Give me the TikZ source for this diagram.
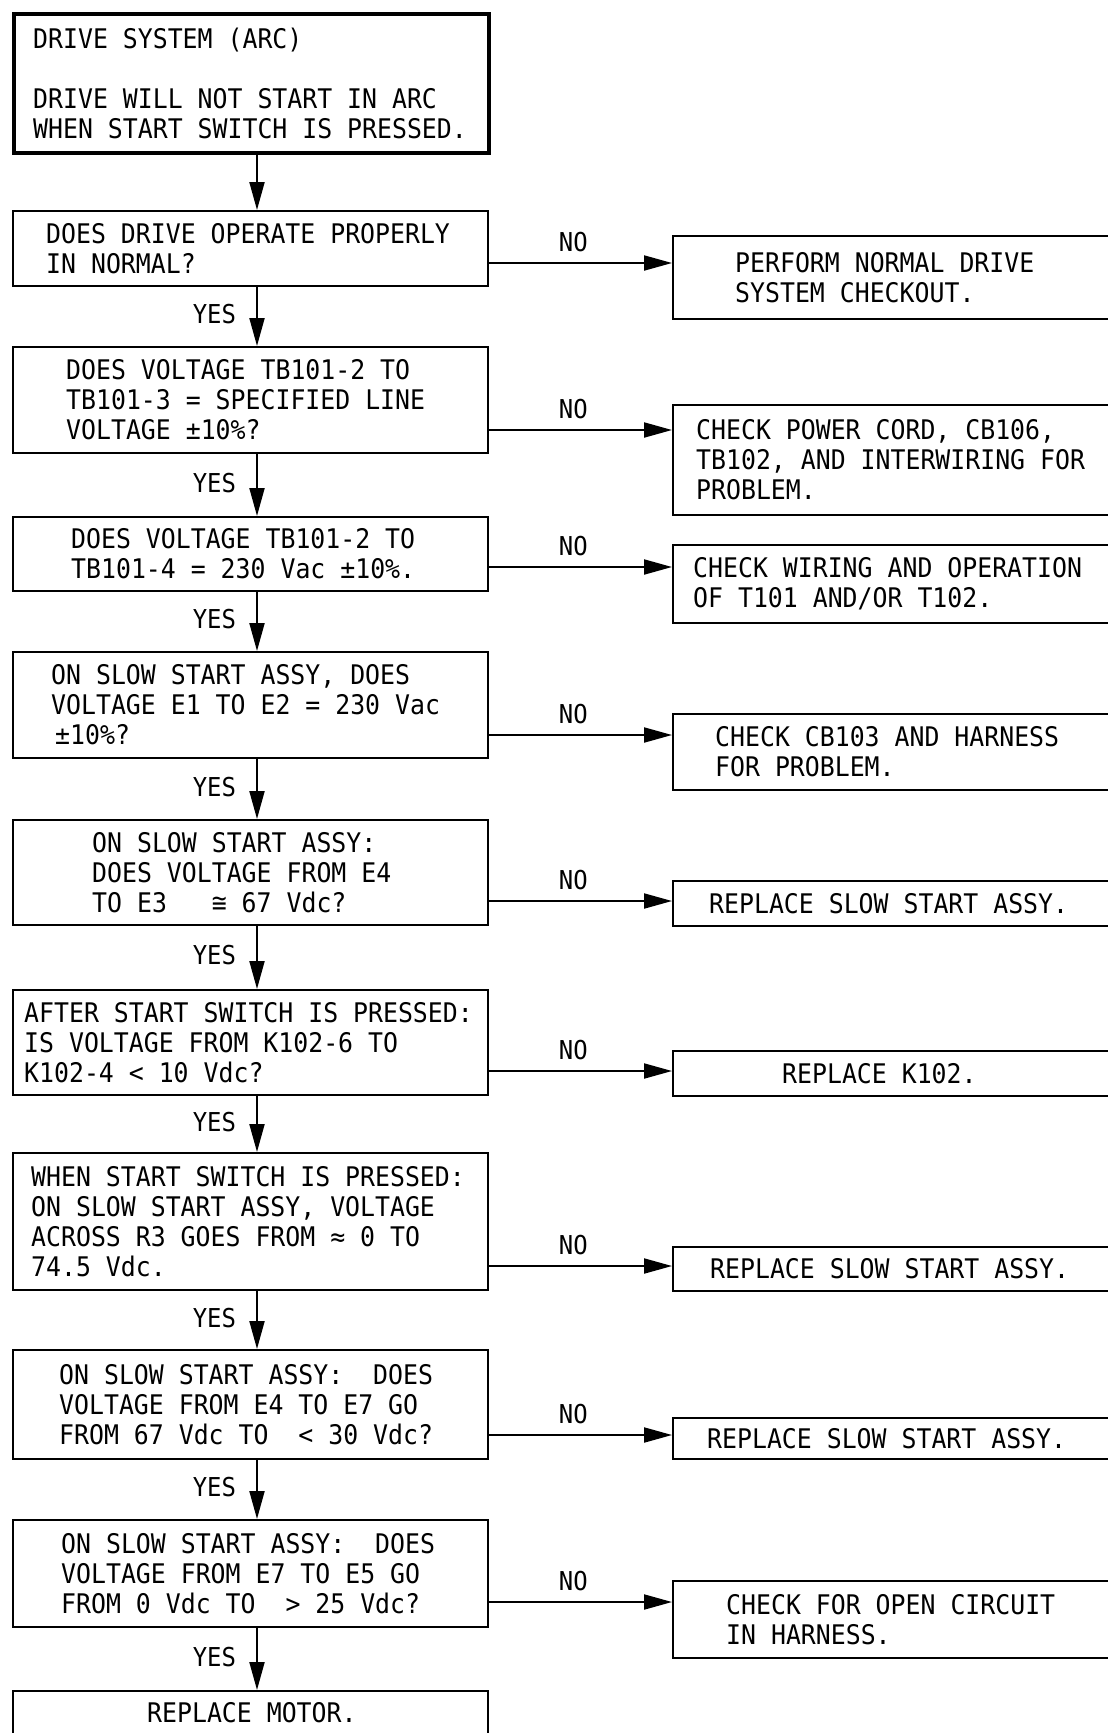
\documentclass[tikz,border=0pt]{standalone}
\usepackage{fontspec}
\newfontfamily\tw[FakeStretch=0.92]{DejaVu Sans Mono}
\usetikzlibrary{arrows.meta}
\begin{document}
\begin{tikzpicture}[x=1pt,y=-1pt,
  box/.style={draw, line width=2.2pt, anchor=north west, inner sep=0pt},
  mainbox/.style={box, minimum width=475pt},
  sidebox/.style={box, minimum width=450pt},
  txt/.style={font=\tw\fontsize{27}{30}\selectfont, align=left, inner sep=0pt, anchor=west},
  lab/.style={font=\tw\fontsize{26}{28}\selectfont, inner sep=0pt},
  yeslab/.style={lab, pos=0.46, anchor=east, xshift=-20pt},
  nolab/.style={lab, pos=0.46, yshift=21pt},
  arr/.style={line width=2pt, -{Triangle[length=28pt,width=15pt]}},
]
\useasboundingbox (0,0) rectangle (1108,1733);
\clip (0,0) rectangle (1108,1733);
\fill[white] (0,0) rectangle (1108,1733);

\coordinate (sp) at (257,0);

% main column boxes
\node[mainbox, line width=4pt, minimum height=139pt] (b1) at (12,12) {};
\node[mainbox, minimum height=75pt] (b2) at (12,210) {};
\node[mainbox, minimum height=106pt] (b3) at (12,346) {};
\node[mainbox, minimum height=74pt] (b4) at (12,516) {};
\node[mainbox, minimum height=106pt] (b5) at (12,651) {};
\node[mainbox, minimum height=105pt] (b6) at (12,819) {};
\node[mainbox, minimum height=105pt] (b7) at (12,989) {};
\node[mainbox, minimum height=137pt] (b8) at (12,1152) {};
\node[mainbox, minimum height=109pt] (b9) at (12,1349) {};
\node[mainbox, minimum height=107pt] (b10) at (12,1519) {};
\node[mainbox, minimum height=80pt] (b11) at (12,1690) {};

% side boxes
\node[sidebox, minimum height=83pt] (r1) at (672,235) {};
\node[sidebox, minimum height=110pt] (r2) at (672,404) {};
\node[sidebox, minimum height=78pt] (r3) at (672,544) {};
\node[sidebox, minimum height=76pt] (r4) at (672,713) {};
\node[sidebox, minimum height=45pt] (r5) at (672,880) {};
\node[sidebox, minimum height=45pt] (r6) at (672,1050) {};
\node[sidebox, minimum height=44pt] (r7) at (672,1246) {};
\node[sidebox, minimum height=41pt] (r8) at (672,1417) {};
\node[sidebox, minimum height=77pt] (r9) at (672,1580) {};

% texts main
\node[txt] (t1) at ([xshift=21pt]b1.west) {DRIVE SYSTEM (ARC)\\[30pt]DRIVE WILL NOT START IN ARC\\WHEN START SWITCH IS PRESSED.};
\node[txt] (t2) at ([xshift=34pt]b2.west) {DOES DRIVE OPERATE PROPERLY\\IN NORMAL?};
\node[txt] (t3) at ([xshift=54pt]b3.west) {DOES VOLTAGE TB101-2 TO\\TB101-3 = SPECIFIED LINE\\VOLTAGE ±10\%?};
\node[txt] (t4) at ([xshift=59pt]b4.west) {DOES VOLTAGE TB101-2 TO\\TB101-4 = 230 Vac ±10\%.};
\node[txt] (t5) at ([xshift=39pt]b5.west) {ON SLOW START ASSY, DOES\\VOLTAGE E1 TO E2 = 230 Vac\\\hspace{4pt}±10\%?};
\node[txt] (t6) at ([xshift=80pt]b6.west) {ON SLOW START ASSY:\\DOES VOLTAGE FROM E4\\TO E3 ~ ≅ 67 Vdc?};
\node[txt] (t7) at ([xshift=12pt]b7.west) {AFTER START SWITCH IS PRESSED:\\IS VOLTAGE FROM K102-6 TO\\K102-4 < 10 Vdc?};
\node[txt] (t8) at ([xshift=19pt]b8.west) {WHEN START SWITCH IS PRESSED:\\ON SLOW START ASSY, VOLTAGE\\ACROSS R3 GOES FROM ≈ 0 TO\\74.5 Vdc.};
\node[txt] (t9) at ([xshift=47pt]b9.west) {ON SLOW START ASSY: ~DOES\\VOLTAGE FROM E4 TO E7 GO\\FROM 67 Vdc TO ~< 30 Vdc?};
\node[txt] (t10) at ([xshift=49pt]b10.west) {ON SLOW START ASSY: ~DOES\\VOLTAGE FROM E7 TO E5 GO\\FROM 0 Vdc TO ~> 25 Vdc?};
\node[txt, anchor=north west] (t11) at ([xshift=135pt,yshift=-12pt]b11.north west) {REPLACE MOTOR.};

% texts side
\node[txt] (s1) at ([xshift=63pt]r1.west) {PERFORM NORMAL DRIVE\\SYSTEM CHECKOUT.};
\node[txt] (s2) at ([xshift=24pt]r2.west) {CHECK POWER CORD, CB106,\\TB102, AND INTERWIRING FOR\\PROBLEM.};
\node[txt] (s3) at ([xshift=21pt]r3.west) {CHECK WIRING AND OPERATION\\OF T101 AND/OR T102.};
\node[txt] (s4) at ([xshift=43pt]r4.west) {CHECK CB103 AND HARNESS\\FOR PROBLEM.};
\node[txt] (s5) at ([xshift=37pt]r5.west) {REPLACE SLOW START ASSY.};
\node[txt] (s6) at ([xshift=110pt]r6.west) {REPLACE K102.};
\node[txt] (s7) at ([xshift=38pt]r7.west) {REPLACE SLOW START ASSY.};
\node[txt] (s8) at ([xshift=35pt]r8.west) {REPLACE SLOW START ASSY.};
\node[txt] (s9) at ([xshift=54pt]r9.west) {CHECK FOR OPEN CIRCUIT\\IN HARNESS.};

% vertical connectors
\draw[arr] (b1.south -| sp) -- (b2.north -| sp);
\draw[arr] (b2.south -| sp) -- node[yeslab] {YES} (b3.north -| sp);
\draw[arr] (b3.south -| sp) -- node[yeslab] {YES} (b4.north -| sp);
\draw[arr] (b4.south -| sp) -- node[yeslab] {YES} (b5.north -| sp);
\draw[arr] (b5.south -| sp) -- node[yeslab] {YES} (b6.north -| sp);
\draw[arr] (b6.south -| sp) -- node[yeslab] {YES} (b7.north -| sp);
\draw[arr] (b7.south -| sp) -- node[yeslab] {YES} (b8.north -| sp);
\draw[arr] (b8.south -| sp) -- node[yeslab] {YES} (b9.north -| sp);
\draw[arr] (b9.south -| sp) -- node[yeslab] {YES} (b10.north -| sp);
\draw[arr] (b10.south -| sp) -- node[yeslab] {YES} (b11.north -| sp);

% horizontal connectors
\coordinate (n2) at (0,263);
\coordinate (n3) at (0,430);
\coordinate (n4) at (0,567);
\coordinate (n5) at (0,735);
\coordinate (n6) at (0,901);
\coordinate (n7) at (0,1071);
\coordinate (n8) at (0,1266);
\coordinate (n9) at (0,1435);
\coordinate (n10) at (0,1602);
\draw[arr] (b2.east |- n2) -- node[nolab] {NO} (r1.west |- n2);
\draw[arr] (b3.east |- n3) -- node[nolab] {NO} (r2.west |- n3);
\draw[arr] (b4.east |- n4) -- node[nolab] {NO} (r3.west |- n4);
\draw[arr] (b5.east |- n5) -- node[nolab] {NO} (r4.west |- n5);
\draw[arr] (b6.east |- n6) -- node[nolab] {NO} (r5.west |- n6);
\draw[arr] (b7.east |- n7) -- node[nolab] {NO} (r6.west |- n7);
\draw[arr] (b8.east |- n8) -- node[nolab] {NO} (r7.west |- n8);
\draw[arr] (b9.east |- n9) -- node[nolab] {NO} (r8.west |- n9);
\draw[arr] (b10.east |- n10) -- node[nolab] {NO} (r9.west |- n10);
\end{tikzpicture}
\end{document}
